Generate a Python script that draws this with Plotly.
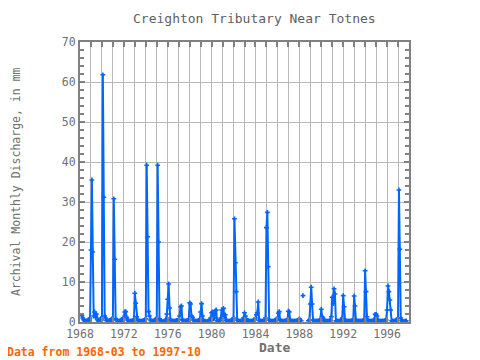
import plotly.graph_objects as go
import pandas as pd

start_month = "1968-03"
end_month = "1997-10"

# Monthly discharge (mm), 1968-03 .. 1997-10; None = missing
discharge_mm = [
    # 1968 Mar-Dec
    1.6, 1.0, 0.6, 0.3, 0.2, 0.2, 0.3, 0.4, 0.6, 1.0,
    # 1969
    18.0, 35.5, 17.5, 1.5, 2.5, 1.2, 2.0, 0.6, 0.3, 0.4, 0.6, 0.9,
    # 1970
    0.5, 61.8, 31.2, 1.5, 1.0, 0.4, 0.3, 0.2, 0.3, 0.4, 0.6, 0.8,
    # 1971
    0.6, 30.8, 15.7, 0.8, 0.5, 0.3, 0.2, 0.2, 0.3, 0.4, 0.6, 1.0,
    # 1972
    1.0, 2.5, 2.6, 1.2, 0.5, 0.3, 0.2, 0.2, 0.2, 0.3, 0.4, 0.5,
    # 1973
    7.2, 4.7, 1.3, 0.5, 0.3, 0.2, 0.2, 0.2, 0.2, 0.3, 0.4, 0.6,
    # 1974
    0.8, 39.2, 21.3, 2.6, 1.5, 0.5, 0.3, 0.2, 0.2, 0.3, 0.5, 0.7,
    # 1975
    0.6, 39.2, 20.0, 0.8, 0.3, 0.2, 0.1, 0.1, 0.2, 0.3, 0.5, 2.0,
    # 1976
    5.7, 9.5, 3.5, 0.6, 0.3, 0.2, 0.2, 0.2, 0.2, 0.3, 0.4, 0.4,
    # 1977
    0.6, 1.5, 3.8, 4.0, 0.6, 0.3, 0.2, 0.2, 0.2, 0.3, 0.4, 0.8,
    # 1978
    4.8, 4.5, 1.5, 1.2, 0.5, 0.3, 0.2, 0.2, 0.2, 0.3, 0.4, 0.6,
    # 1979
    2.5, 4.6, 1.5, 0.3, 0.2, 0.2, 0.1, 0.1, 0.2, 0.3, 0.5, 1.0,
    # 1980
    2.3, 2.5, 0.8, 1.0, 2.8, 3.0, 0.3, 0.2, 0.2, 0.4, 1.0, 3.0,
    # 1981
    1.5, 3.4, 1.2, 1.8, 0.4, 0.2, 0.2, 0.2, 0.2, 0.3, 0.4, 0.6,
    # 1982
    1.0, 25.8, 14.8, 7.6, 0.5, 0.3, 0.2, 0.2, 0.2, 0.3, 0.5, 1.0,
    # 1983
    2.3, 1.5, 0.8, 0.4, 0.3, 0.2, 0.2, 0.2, 0.2, 0.3, 0.4, 0.6,
    # 1984
    1.0, 1.8, 2.3, 5.0, 0.4, 0.3, 0.2, 0.2, 0.2, 0.3, 0.5, 1.0,
    # 1985
    23.6, 27.4, 13.8, 0.5, 0.3, 0.2, 0.2, 0.2, 0.2, 0.3, 0.5, 0.8,
    # 1986
    0.5, 2.2, 2.6, 0.5, 0.3, 0.2, 0.2, 0.2, 0.2, 0.3, 0.4, 0.5,
    # 1987
    2.7, 2.5, 0.5, 0.3, 0.2, 0.2, 0.2, 0.2, 0.2, 0.3, 0.4, 0.5,
    # 1988
    0.8, 0.5, 0.3, None, 6.6, None, None, None, None, None, 0.3, 0.5,
    # 1989
    4.5, 8.7, 4.5, 0.5, 0.3, 0.2, 0.2, 0.2, 0.2, 0.3, 0.4, 0.5,
    # 1990
    3.2, 1.3, 1.0, 0.3, 0.2, 0.2, 0.2, 0.2, 0.2, 0.3, 0.5, 1.3,
    # 1991
    6.2, 4.6, 8.3, 7.0, 0.3, 0.2, 0.2, 0.2, 0.2, 0.3, 0.5, 1.0,
    # 1992
    6.6, 3.8, 0.4, 0.3, 0.2, 0.2, 0.2, 0.2, 0.2, 0.3, 0.4, 0.5,
    # 1993
    6.5, 4.0, 0.4, 0.3, 0.2, 0.2, 0.2, 0.2, 0.2, 0.3, 0.4, 0.6,
    # 1994
    12.8, 7.6, 1.3, 0.4, 0.2, 0.2, 0.2, 0.2, 0.2, 0.3, 0.6, 1.9,
    # 1995
    1.9, 1.5, 0.5, 0.2, 0.2, 0.2, 0.2, 0.2, 0.2, 0.3, 0.4, 0.5,
    # 1996
    3.0, 9.0, 7.6, 5.5, 3.0, 0.3, 0.2, 0.2, 0.2, 0.3, 0.4, 0.6,
    # 1997 Jan-Oct
    1.0, 33.0, 18.2, 1.0, 0.3, 0.2, 0.1, 0.1, 0.2, 0.3,
]

year_ticks = [1968, 1972, 1976, 1980, 1984, 1988, 1992, 1996]
y_ticks = [0, 10, 20, 30, 40, 50, 60, 70]

months = pd.period_range(start_month, end_month, freq="M")
x_years = [p.year + (p.month - 1) / 12.0 for p in months]

TXT = "#707070"
AX = "#808080"
GRID = "#b8b8b8"
FONT = "DejaVu Sans Mono"

# page body has an 8px margin, so the figure is drawn 8px in from the window corner
OFF = 8
PL, PT, PW, PH = 80, 42, 329, 280  # plot area in window pixels (reference)


def px(xw):
    return (xw - PL) / PW


def py(yw):
    return (PT + PH - yw) / PH


fig = go.Figure()
fig.add_trace(go.Scatter(
    x=x_years, y=discharge_mm, mode="lines+markers",
    line=dict(color="#0066ff", width=2),
    marker=dict(symbol="cross", size=4, color="#0066ff"),
    connectgaps=False, hoverinfo="skip",
))

fig.update_layout(
    width=480 - OFF, height=360 - OFF,
    margin=dict(l=PL - OFF, r=480 - OFF - (PL - OFF) - PW, t=PT - OFF,
                b=360 - OFF - (PT - OFF) - PH, pad=0),
    paper_bgcolor="white", plot_bgcolor="white",
    showlegend=False,
    font=dict(family=FONT, color=TXT, size=11.5),
)

fig.update_xaxes(
    range=[1968, 1998], tickmode="array", tickvals=year_ticks,
    ticktext=[str(v) for v in year_ticks],
    ticks="inside", ticklen=5, tickwidth=2, tickcolor=AX,
    showline=True, linecolor=AX, linewidth=2, mirror="allticks",
    showgrid=True, gridcolor=GRID, gridwidth=1, zeroline=False,
    tickfont=dict(family=FONT, color=TXT, size=11.5),
    minor=dict(tick0=1968, dtick=1, ticks="inside", ticklen=5, tickwidth=2,
               tickcolor=AX, showgrid=True, gridcolor=GRID, gridwidth=1),
)
fig.update_yaxes(
    range=[0, 70], tickmode="array", tickvals=y_ticks,
    ticks="inside", ticklen=5, tickwidth=2, tickcolor=AX,
    showline=True, linecolor=AX, linewidth=2, mirror="allticks",
    showgrid=True, gridcolor=GRID, gridwidth=1, zeroline=False,
    tickfont=dict(family=FONT, color=TXT, size=11.5),
    minor=dict(tick0=0, dtick=2, ticks="inside", ticklen=4, tickwidth=2,
               tickcolor=AX, showgrid=False),
)

fig.add_annotation(text="Creighton Tributary Near Totnes", xref="paper", yref="paper",
                   x=px(254), y=py(18), xanchor="center", yanchor="middle",
                   showarrow=False, font=dict(family=FONT, size=13, color="#606060"))
fig.add_annotation(text="Archival Monthly Discharge, in mm", xref="paper", yref="paper",
                   x=px(16), y=py(182), textangle=-90, xanchor="center", yanchor="middle",
                   showarrow=False, font=dict(family=FONT, size=11.5, color=TXT))
fig.add_annotation(text="<b>Date</b>", xref="paper", yref="paper",
                   x=px(274), y=py(347.5), xanchor="center", yanchor="middle",
                   showarrow=False, font=dict(family=FONT, size=13, color=TXT))
fig.add_annotation(text="<b>Data from 1968-03 to 1997-10</b>", xref="paper", yref="paper",
                   x=px(5), y=py(352), xanchor="left", yanchor="middle",
                   showarrow=False, font=dict(family=FONT, size=11.5, color="#ff6600"))

fig.write_html("out.html")
